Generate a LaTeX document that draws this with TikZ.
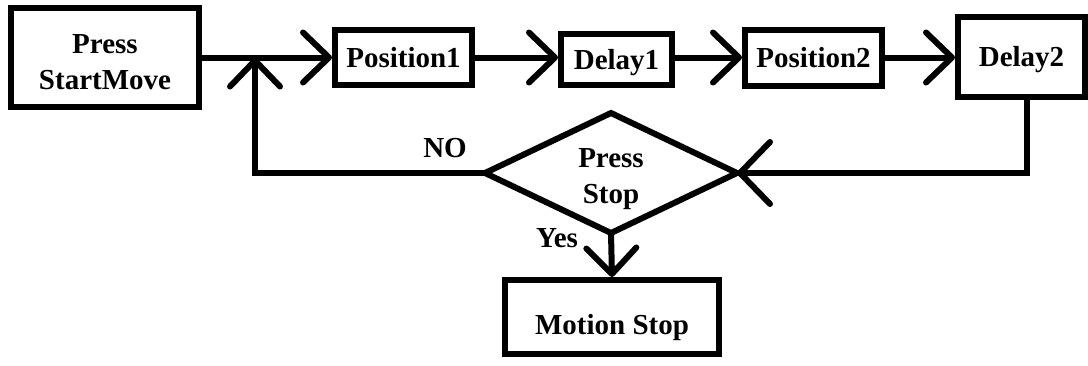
\documentclass[tikz,border=0pt]{standalone}
\usepackage{fontspec}
\setmainfont{Liberation Serif}
\usetikzlibrary{arrows.meta,shapes.geometric}
\newcommand{\flowfont}{\fontsize{29}{36}\selectfont\bfseries}
\tikzset{
  box/.style={draw, line width=6pt, inner sep=0pt, align=center, font=\flowfont, text depth=0pt},
  arr/.style={line width=6pt, line cap=round, -{Straight Barb[length=26pt,width=50pt,round]}},
  bigarr/.style={line width=6pt, line cap=round, -{Straight Barb[length=30pt,width=62pt,round]}},
  lbl/.style={font=\flowfont, inner sep=0pt}
}
\begin{document}
\begin{tikzpicture}[x=1pt,y=-1pt]
\useasboundingbox (0,0) rectangle (1088,365);
\node[box, minimum width=188pt, minimum height=99pt, text height=64pt] (psm) at (105,57.5) {Press\\StartMove};
\node[box, minimum width=137pt, minimum height=55pt] (p1) at (403.5,57.5) {Position1};
\node[box, minimum width=111pt, minimum height=51pt] (d1) at (616.5,59) {Delay1};
\node[box, minimum width=137pt, minimum height=56pt] (p2) at (813.5,57.5) {Position2};
\node[box, minimum width=127pt, minimum height=80pt] (d2) at (1021.5,56.5) {Delay2};
\node[box, diamond, aspect=2.1, outer sep=0pt, minimum width=252pt, minimum height=120pt, text height=60pt] (dia) at (611,173) {Press\\Stop};
\node[box, minimum width=214pt, minimum height=74pt, text height=34pt] (ms) at (612,317) {Motion Stop};
\coordinate (m) at (255,57.5);
\draw[arr] (psm.east |- p1.west) -- (p1.west);
\draw[arr] (p1.east) -- (p1.east -| d1.west);
\draw[arr] (d1.east |- p2.west) -- (p2.west);
\draw[arr] (p2.east) -- (p2.east -| d2.west);
\draw[arr] (dia.west) -| (m);
\draw[bigarr] ([xshift=5pt]d2.south) |- (dia.east);
\draw[arr] (dia.south) -- (ms.north);
\node[lbl] (no) at (445,148) {NO};
\node[lbl] (yes) at (557,238) {Yes};
\end{tikzpicture}
\end{document}
